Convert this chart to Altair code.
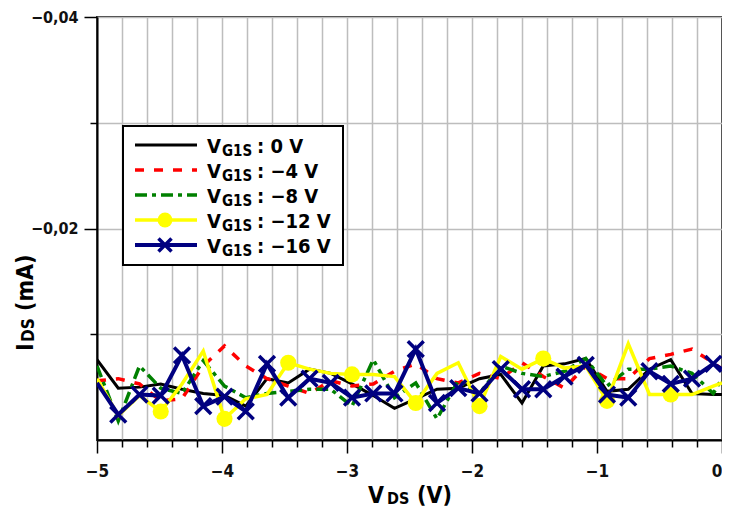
import altair as alt
import pandas as pd

# ---------------- data ----------------
vds = [-5.0, -4.83, -4.66, -4.49, -4.32, -4.15, -3.98, -3.81, -3.64, -3.47,
       -3.30, -3.13, -2.96, -2.79, -2.62, -2.45, -2.28, -2.11, -1.94, -1.77,
       -1.60, -1.43, -1.26, -1.09, -0.92, -0.75, -0.58, -0.41, -0.24, -0.07, 0.0]

ids_0v = [-0.0076, -0.0049, -0.0050, -0.0053, -0.0048, -0.0044, -0.0042, -0.0032, -0.0058, -0.0054,
          -0.0067, -0.0063, -0.0053, -0.0042, -0.0030, -0.0039, -0.0048, -0.0049, -0.0058, -0.0062,
          -0.0035, -0.0070, -0.0072, -0.0077, -0.0046, -0.0048, -0.0067, -0.0076, -0.0044, -0.0043, -0.0043]
ids_m4v = [-0.0056, -0.0058, -0.0053, -0.0037, -0.0039, -0.0070, -0.0089, -0.0070, -0.0058, -0.0051,
           -0.0044, -0.0056, -0.0051, -0.0053, -0.0065, -0.0072, -0.0058, -0.0054, -0.0063, -0.0058,
           -0.0073, -0.0060, -0.0049, -0.0070, -0.0058, -0.0058, -0.0077, -0.0081, -0.0086, -0.0073, -0.0067]
ids_m8v = [-0.0070, -0.0018, -0.0070, -0.0049, -0.0044, -0.0075, -0.0051, -0.0040, -0.0044, -0.0046,
           -0.0048, -0.0048, -0.0032, -0.0076, -0.0040, -0.0054, -0.0020, -0.0056, -0.0044, -0.0070,
           -0.0063, -0.0060, -0.0065, -0.0077, -0.0051, -0.0067, -0.0067, -0.0070, -0.0063, -0.0044, -0.0058]
ids_m12v = [-0.0058, -0.0023, -0.0042, -0.0027, -0.0053, -0.0084, -0.0020, -0.0039, -0.0043, -0.0073,
            -0.0067, -0.0063, -0.0062, -0.0062, -0.0060, -0.0035, -0.0063, -0.0073, -0.0032, -0.0079,
            -0.0067, -0.0077, -0.0068, -0.0070, -0.0037, -0.0091, -0.0043, -0.0043, -0.0043, -0.0051, -0.0054]
ids_m16v = [-0.0054, -0.0024, -0.0043, -0.0042, -0.0080, -0.0032, -0.0041, -0.0027, -0.0072, -0.0040,
            -0.0058, -0.0054, -0.0040, -0.0044, -0.0044, -0.0086, -0.0035, -0.0049, -0.0044, -0.0067,
            -0.0048, -0.0048, -0.0060, -0.0071, -0.0043, -0.0040, -0.0065, -0.0053, -0.0058, -0.0072, -0.0067]

legend_labels = [": 0 V", ": \u22124 V", ": \u22128 V", ": \u221212 V", ": \u221216 V"]

x_tick_values = [-5.0, -4.8, -4.6, -4.4, -4.2, -4.0, -3.8, -3.6, -3.4, -3.2, -3.0,
                 -2.8, -2.6, -2.4, -2.2, -2.0, -1.8, -1.6, -1.4, -1.2, -1.0,
                 -0.8, -0.6, -0.4, -0.2, 0.0]
y_tick_values = [-0.04, -0.03, -0.02, -0.01]

# ---------------- styles ----------------
FONT = "DejaVu Sans Condensed"
colors = ["#000000", "#ff0000", "#008000", "#ffff00", "#000080"]
dashes = [None, [9, 10], [12, 5, 4, 5], None, None]
widths = [3, 3.5, 3.5, 3.5, 4]

x_enc = alt.X("vds:Q",
              scale=alt.Scale(domain=[-5, 0], nice=False, zero=False),
              axis=alt.Axis(values=x_tick_values, title=None, grid=True,
                            labelExpr="abs(datum.value - round(datum.value)) < 0.001 ? format(datum.value, 'd') : ''",
                            labelAlign={"condition": {"test": "datum.value > -0.01", "value": "right"}, "value": "center"},
                            tickSize={"condition": {"test": "abs(datum.value - round(datum.value)) < 0.001", "value": 13}, "value": 7},
                            labelPadding=10, labelFlush=False, labelOverlap=False, labelFontSize=17))
y_enc = alt.Y("ids:Q",
              scale=alt.Scale(domain=[-0.04, 0], reverse=True, nice=False, zero=False),
              axis=alt.Axis(values=y_tick_values, title=None, grid=True,
                            labelExpr="abs(datum.value + 0.04) < 1e-6 || abs(datum.value + 0.02) < 1e-6 ? replace(format(datum.value, '.2f'), '.', ',') : ''",
                            tickSize={"condition": {"test": "abs(datum.value + 0.04) < 1e-6 || abs(datum.value + 0.02) < 1e-6", "value": 13}, "value": 7},
                            labelPadding=6, labelOverlap=False, labelFontSize=16))

XSHAPE = "M-1,-1L1,1M-1,1L1,-1"

series = [ids_0v, ids_m4v, ids_m8v, ids_m12v, ids_m16v]
layers = []
for k, vals in enumerate(series):
    df = pd.DataFrame({"vds": vds, "ids": vals})
    props = dict(color=colors[k], strokeWidth=widths[k], clip=True)
    if dashes[k]:
        props["strokeDash"] = dashes[k]
    layers.append(alt.Chart(df).mark_line(**props).encode(x=x_enc, y=y_enc))
    if k == 3:
        dfm = pd.DataFrame({"vds": vds[3:28:3], "ids": vals[3:28:3]})
        layers.append(alt.Chart(dfm).mark_point(shape="circle", filled=True, size=260,
                                                color=colors[k], opacity=1)
                      .encode(x=x_enc, y=y_enc))
    if k == 4:
        dfm = pd.DataFrame({"vds": vds[1:30], "ids": vals[1:30]})
        layers.append(alt.Chart(dfm).mark_point(shape=XSHAPE, filled=False,
                                                size=250, strokeWidth=3.5, color=colors[k],
                                                opacity=1)
                      .encode(x=x_enc, y=y_enc))

one = pd.DataFrame({"a": [0]})

# legend box
layers.append(alt.Chart(one).mark_rect(fill="white", stroke="black", strokeWidth=2)
              .encode(x=alt.value(26), x2=alt.value(246), y=alt.value(109), y2=alt.value(248)))

row_y = [128, 153, 178, 203, 228]
for k in range(5):
    ry = row_y[k]
    rprops = dict(color=colors[k], strokeWidth=widths[k])
    if dashes[k]:
        rprops["strokeDash"] = dashes[k]
    layers.append(alt.Chart(one).mark_rule(**rprops)
                  .encode(x=alt.value(38), x2=alt.value(100), y=alt.value(ry)))
    if k == 3:
        layers.append(alt.Chart(one).mark_point(shape="circle", filled=True, size=220,
                                                color=colors[k], opacity=1)
                      .encode(x=alt.value(68), y=alt.value(ry)))
    if k == 4:
        layers.append(alt.Chart(one).mark_point(shape=XSHAPE, filled=False,
                                                size=170, strokeWidth=3.5, color=colors[k],
                                                opacity=1)
                      .encode(x=alt.value(68), y=alt.value(ry)))
    layers.append(alt.Chart(one).mark_text(text="V", font=FONT, fontSize=20, fontWeight="bold",
                                           align="left", baseline="alphabetic", color="black")
                  .encode(x=alt.value(110), y=alt.value(ry + 8)))
    layers.append(alt.Chart(one).mark_text(text="G1S", font=FONT, fontSize=15, fontWeight="bold",
                                           align="left", baseline="alphabetic", color="black")
                  .encode(x=alt.value(125), y=alt.value(ry + 11)))
    layers.append(alt.Chart(one).mark_text(text=legend_labels[k], font=FONT, fontSize=20,
                                           fontWeight="bold", align="left",
                                           baseline="alphabetic", color="black")
                  .encode(x=alt.value(160), y=alt.value(ry + 8)))

# y axis title  I_DS (mA)
layers.append(alt.Chart(one).mark_text(text="I", font=FONT, fontSize=23, fontWeight="bold",
                                       align="left", baseline="alphabetic", angle=270, color="black")
              .encode(x=alt.value(-64), y=alt.value(334)))
layers.append(alt.Chart(one).mark_text(text="DS", font=FONT, fontSize=17, fontWeight="bold",
                                       align="left", baseline="alphabetic", angle=270, color="black")
              .encode(x=alt.value(-63), y=alt.value(325)))
layers.append(alt.Chart(one).mark_text(text="(mA)", font=FONT, fontSize=23, fontWeight="bold",
                                       align="left", baseline="alphabetic", angle=270, color="black")
              .encode(x=alt.value(-64), y=alt.value(294)))

# x axis title  V_DS (V)
layers.append(alt.Chart(one).mark_text(text="V", font=FONT, fontSize=23, fontWeight="bold",
                                       align="left", baseline="alphabetic", color="black")
              .encode(x=alt.value(271), y=alt.value(486)))
layers.append(alt.Chart(one).mark_text(text="DS", font=FONT, fontSize=16, fontWeight="bold",
                                       align="left", baseline="alphabetic", color="black")
              .encode(x=alt.value(290), y=alt.value(487)))
layers.append(alt.Chart(one).mark_text(text="(V)", font=FONT, fontSize=23, fontWeight="bold",
                                       align="left", baseline="alphabetic", color="black")
              .encode(x=alt.value(320), y=alt.value(486)))

chart = (alt.layer(*layers)
         .properties(width=625, height=423, autosize="none",
                     padding={"left": 89, "top": 9, "right": 0, "bottom": 67})
         .configure_view(stroke="#333333", strokeWidth=2)
         .configure_axis(gridColor="#bdbdbd", gridWidth=1.5, tickColor="black", tickWidth=1.5,
                         domainColor="black", domainWidth=2, labelFont=FONT,
                         labelFontWeight="bold", labelColor="#111111"))

chart.save("out.html", embed_options={"renderer": "svg", "actions": False})
